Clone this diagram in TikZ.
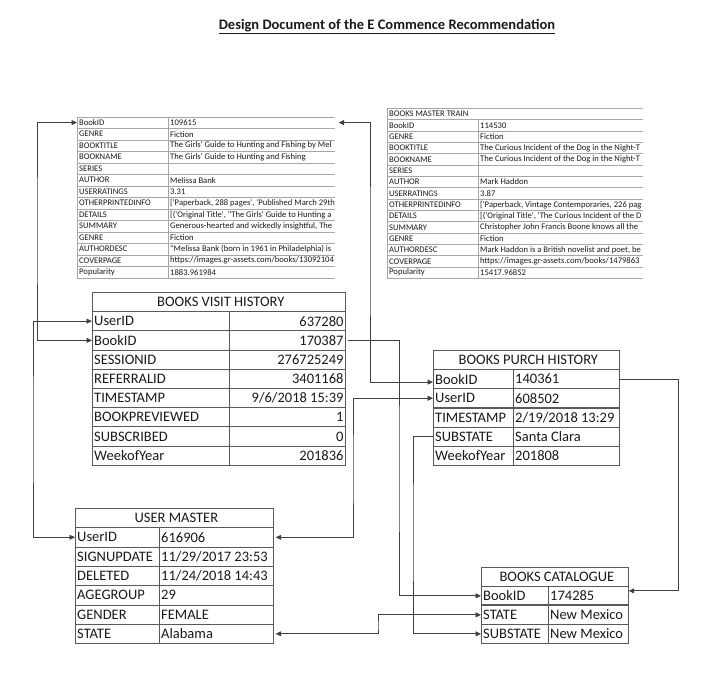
\documentclass[tikz,border=0pt]{standalone}
\usepackage{fontspec}
\newfontfamily\calfont{Carlito}
\usetikzlibrary{arrows.meta}
\definecolor{bordS}{HTML}{A6A6A6}
\definecolor{bordM}{HTML}{595959}
\definecolor{conncol}{HTML}{404040}
\definecolor{txt}{HTML}{1A1A1A}
\newcommand\tabrow[4]{%
  \pgfmathsetmacro\rya{\ty+#2*\th}%
  \pgfmathsetmacro\rwk{\td-\tx}%
  \pgfmathsetmacro\rwv{\te-\td}%
  \node[cellbox=\tbord, minimum width=\rwk pt, minimum height=\th pt] (#1k#2) at (\tx,\rya) {};
  \node[cellbox=\tbord, minimum width=\rwv pt, minimum height=\th pt] (#1v#2) at (\td,\rya) {};
  \node[celltext, font=\tfont, anchor=west] (#1kt#2) at ([xshift=\tpad pt]#1k#2.west) {#3};
  \node[celltext, font=\tfont, anchor=\tva] (#1vt#2) at ([xshift=\tvs pt]#1v#2.\tva) {#4};
}
\newcommand\tabhead[3]{% prefix, anchor (center/west), text
  \pgfmathsetmacro\rw{\te-\tx}%
  \node[cellbox=\tbord, minimum width=\rw pt, minimum height=\th pt] (#1h) at (\tx,\ty) {};
  \node[celltext, font=\tfont, anchor=#2] (#1ht) at ([xshift=\tpad pt]#1h.#2) {#3};
}
\begin{document}
\begin{tikzpicture}[x=1pt,y=-1pt,
  cellbox/.style={draw=#1, rectangle, inner sep=0pt, anchor=north west, line width=0.7pt},
  cellbox/.default=bordM,
  celltext/.style={inner sep=0pt, text=txt},
  conn/.style={draw=conncol, line width=0.8pt},
  >={Triangle[length=5.5pt,width=5pt]}]
\fill[white] (0,0) rectangle (725,680);
\useasboundingbox (0,0) rectangle (725,680);

\node[font=\calfont\bfseries\fontsize{14.5}{17}\selectfont, text=txt, anchor=base] (title) at (387,29) {\underline{Design Document of the E Commence Recommendation}};

% ---------- top-left books master (sample) ----------
\def\tx{77}\def\td{168}\def\te{335}\def\ty{105}\def\th{11.5}
\def\tbord{bordS}\def\tpad{2}\def\tva{west}\def\tvs{2}
\def\tfont{\calfont\fontsize{8.6}{10}\selectfont}
\begin{scope}
\clip (0,0) rectangle (334.6,680);
\tabrow{tl}{1}{BookID}{109615}
\tabrow{tl}{2}{GENRE}{Fiction}
\tabrow{tl}{3}{BOOKTITLE}{The Girls' Guide to Hunting and Fishing by Mel}
\tabrow{tl}{4}{BOOKNAME}{The Girls' Guide to Hunting and Fishing}
\tabrow{tl}{5}{SERIES}{}
\tabrow{tl}{6}{AUTHOR}{Melissa Bank}
\tabrow{tl}{7}{USERRATINGS}{3.31}
\tabrow{tl}{8}{OTHERPRINTEDINFO}{['Paperback, 288 pages', 'Published March 29th}
\tabrow{tl}{9}{DETAILS}{[('Original Title', "The Girls' Guide to Hunting a}
\tabrow{tl}{10}{SUMMARY}{Generous-hearted and wickedly insightful, The}
\tabrow{tl}{11}{GENRE}{Fiction}
\tabrow{tl}{12}{AUTHORDESC}{"Melissa Bank (born in 1961 in Philadelphia) is}
\tabrow{tl}{13}{COVERPAGE}{https://images.gr-assets.com/books/13092104}
\tabrow{tl}{14}{Popularity}{1883.961984}
\end{scope}

% ---------- top-right books master train ----------
\def\tx{387}\def\td{478}\def\te{643}\def\ty{108}\def\th{11.33}
\begin{scope}
\clip (0,0) rectangle (642.6,680);
\tabhead{tr}{west}{BOOKS MASTER TRAIN}
\tabrow{tr}{1}{BookID}{114530}
\tabrow{tr}{2}{GENRE}{Fiction}
\tabrow{tr}{3}{BOOKTITLE}{The Curious Incident of the Dog in the Night-T}
\tabrow{tr}{4}{BOOKNAME}{The Curious Incident of the Dog in the Night-T}
\tabrow{tr}{5}{SERIES}{}
\tabrow{tr}{6}{AUTHOR}{Mark Haddon}
\tabrow{tr}{7}{USERRATINGS}{3.87}
\tabrow{tr}{8}{OTHERPRINTEDINFO}{['Paperback, Vintage Contemporaries, 226 pag}
\tabrow{tr}{9}{DETAILS}{[('Original Title', 'The Curious Incident of the D}
\tabrow{tr}{10}{SUMMARY}{Christopher John Francis Boone knows all the}
\tabrow{tr}{11}{GENRE}{Fiction}
\tabrow{tr}{12}{AUTHORDESC}{Mark Haddon is a British novelist and poet, be}
\tabrow{tr}{13}{COVERPAGE}{https://images.gr-assets.com/books/1479863}
\tabrow{tr}{14}{Popularity}{15417.96852}
\end{scope}

% ---------- books visit history ----------
\def\tfont{\calfont\fontsize{14.5}{17}\selectfont}
\def\tbord{bordM}
\def\tx{92}\def\td{229}\def\te{345}\def\ty{292}\def\th{19.2}
\def\tva{east}\def\tvs{-2}
\tabhead{vh}{center}{BOOKS VISIT HISTORY}
\tabrow{vh}{1}{UserID}{637280}
\tabrow{vh}{2}{BookID}{170387}
\tabrow{vh}{3}{SESSIONID}{276725249}
\tabrow{vh}{4}{REFERRALID}{3401168}
\tabrow{vh}{5}{TIMESTAMP}{9/6/2018 15:39}
\tabrow{vh}{6}{BOOKPREVIEWED}{1}
\tabrow{vh}{7}{SUBSCRIBED}{0}
\tabrow{vh}{8}{WeekofYear}{201836}

% ---------- books purch history ----------
\def\tx{433}\def\td{513}\def\te{619}\def\ty{350}\def\th{19.17}
\def\tva{west}\def\tvs{2}
\def\tpad{2}
\tabhead{ph}{center}{BOOKS PURCH HISTORY}
\tabrow{ph}{1}{BookID}{140361}
\tabrow{ph}{2}{UserID}{608502}
\tabrow{ph}{3}{TIMESTAMP}{2/19/2018 13:29}
\tabrow{ph}{4}{SUBSTATE}{Santa Clara}
\tabrow{ph}{5}{WeekofYear}{201808}
\draw[bordM, line width=1.3pt] (phk3.north west) -- (phv3.north east);

% ---------- user master ----------
\def\tx{75}\def\td{159}\def\te{273}\def\ty{508}\def\th{19.3}
\tabhead{um}{center}{USER MASTER}
\tabrow{um}{1}{UserID}{616906}
\tabrow{um}{2}{SIGNUPDATE}{11/29/2017 23:53}
\tabrow{um}{3}{DELETED}{11/24/2018 14:43}
\tabrow{um}{4}{AGEGROUP}{29}
\tabrow{um}{5}{GENDER}{FEMALE}
\tabrow{um}{6}{STATE}{Alabama}

% ---------- books catalogue ----------
\def\tx{481}\def\td{548}\def\te{628}\def\ty{567}\def\th{19}
\tabhead{bc}{center}{BOOKS CATALOGUE}
\tabrow{bc}{1}{BookID}{174285}
\tabrow{bc}{2}{STATE}{New Mexico}
\tabrow{bc}{3}{SUBSTATE}{New Mexico}
\draw[bordM, line width=1.3pt] (bck2.north west) -- (bcv2.north east);

% ---------- connectors ----------
\coordinate (c1) at (37,230);
\draw[conn,<->] (tlk1.west) -| (c1) |- (vhk2.west);
\coordinate (c2) at (33,430);
\draw[conn,<->] (vhk1.west) -| (c2) |- (umk1.west);
\coordinate (c3) at (370,250);
\draw[conn,<->] ([xshift=3pt]tlv1.east) -| (c3) |- ([yshift=-3pt]phk1.west);
\coordinate (c4) at (399,470);
\draw[conn,->] ([xshift=2pt]vhv2.east) -| (c4) |- (bck1.west);
\coordinate (c5) at (353,470);
\draw[conn,<->] ([xshift=2pt]umv1.east) -| (c5) |- (phk2.west);
\coordinate (c6) at (413,530);
\draw[conn,->] (phk4.west) -| (c6) |- (bck3.west);
\coordinate (c7) at (678,480);
\draw[conn,->] (phv1.east) -| (c7) |- ([yshift=5pt]bcv1.east);
\coordinate (c8) at (378,627);
\draw[conn,<->] ([xshift=2pt]umv6.east) -| (c8) |- (bck2.west);
\end{tikzpicture}
\end{document}
